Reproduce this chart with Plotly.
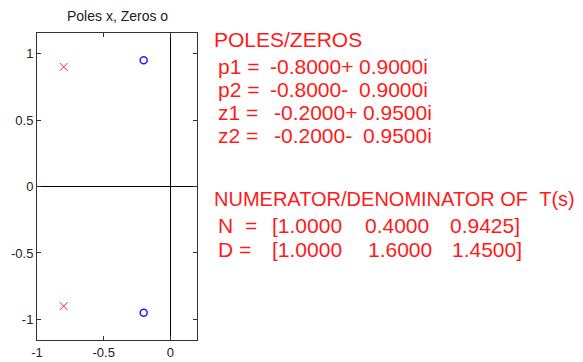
import plotly.graph_objects as go

# Poles and zeros of T(s)
pole_re = [-0.8, -0.8]
pole_im = [0.9, -0.9]
zero_re = [-0.2, -0.2]
zero_im = [0.95, -0.95]

# Polynomial coefficients of T(s)
num = [1.0, 0.4, 0.9425]
den = [1.0, 1.6, 1.45]

x_ticks = [-1, -0.5, 0]
y_ticks = [-1, -0.5, 0, 0.5, 1]

W, H = 583, 362
L, R, T, B = 37, 197, 33, 340   # plot box in pixels

RED = "#ff1a1a"
FONT = "Liberation Sans, Arial, sans-serif"

fig = go.Figure()
fig.add_trace(go.Scatter(
    x=pole_re, y=pole_im, mode="markers",
    marker=dict(symbol="x-thin", size=8, line=dict(color="#ff2020", width=1)),
    hoverinfo="skip", showlegend=False))
fig.add_trace(go.Scatter(
    x=zero_re, y=zero_im, mode="markers",
    marker=dict(symbol="circle-open", size=7, color="#1f1fff",
                line=dict(color="#1f1fff", width=1.5)),
    hoverinfo="skip", showlegend=False))

axis_common = dict(
    showgrid=False, zeroline=True, zerolinecolor="black", zerolinewidth=1,
    showline=True, linecolor="#333333", linewidth=1, mirror="ticks",
    ticks="inside", ticklen=4, tickcolor="#333333", automargin=False,
    tickfont=dict(family=FONT, size=13, color="#222222"),
)

fig.update_xaxes(range=[-1, 0.2], tickvals=x_ticks,
                 ticktext=[f"{v:g}" for v in x_ticks], **axis_common)
fig.update_yaxes(range=[-1.155, 1.155], tickvals=y_ticks,
                 ticktext=[f"{v:g}" for v in y_ticks], **axis_common)


def px_x(p):
    return (p - L) / (R - L)


def px_y(p):
    return (B - p) / (B - T)


annotations = []


def put(text, x, y, size=21, color=RED, xanchor="left"):
    annotations.append(dict(
        text=text, x=px_x(x), y=px_y(y), xref="paper", yref="paper",
        xanchor=xanchor, yanchor="middle", showarrow=False,
        font=dict(family=FONT, size=size, color=color)))


def cplx_parts(re, im):
    sign = "+" if im >= 0 else "-"
    return f"{re:.4f}{sign}", f"{abs(im):.4f}i"


put("POLES/ZEROS", 212, 39)
row_y = [66, 89, 112, 135]
for i, (re, im) in enumerate(zip(pole_re, pole_im)):
    a, b = cplx_parts(re, im)
    put(f"p{i + 1} =", 216, row_y[i])
    put(a, 268, row_y[i])
    put(b, 357, row_y[i])
for i, (re, im) in enumerate(zip(zero_re, zero_im)):
    a, b = cplx_parts(re, im)
    put(f"z{i + 1} =", 216, row_y[2 + i])
    put(a, 272, row_y[2 + i])
    put(b, 361, row_y[2 + i])

put("NUMERATOR/DENOMINATOR OF\u00a0\u00a0T(s)", 212, 199, size=20)
put("N", 216, 225)
put("=", 243, 225)
put(f"[{num[0]:.4f}", 270, 225)
put(f"{num[1]:.4f}", 363, 225)
put(f"{num[2]:.4f}]", 448, 225)
put("D =", 216, 249)
put(f"[{den[0]:.4f}", 270, 249)
put(f"{den[1]:.4f}", 366, 249)
put(f"{den[2]:.4f}]", 450, 249)

# Plot title
put("Poles x, Zeros o", (L + R) / 2, 16, size=14, color="#222222",
    xanchor="center")

fig.update_layout(
    width=W, height=H,
    margin=dict(l=L, r=W - R, t=T, b=H - B, pad=0, autoexpand=False),
    paper_bgcolor="white", plot_bgcolor="white",
    annotations=annotations,
)

fig.write_html("out.html")
